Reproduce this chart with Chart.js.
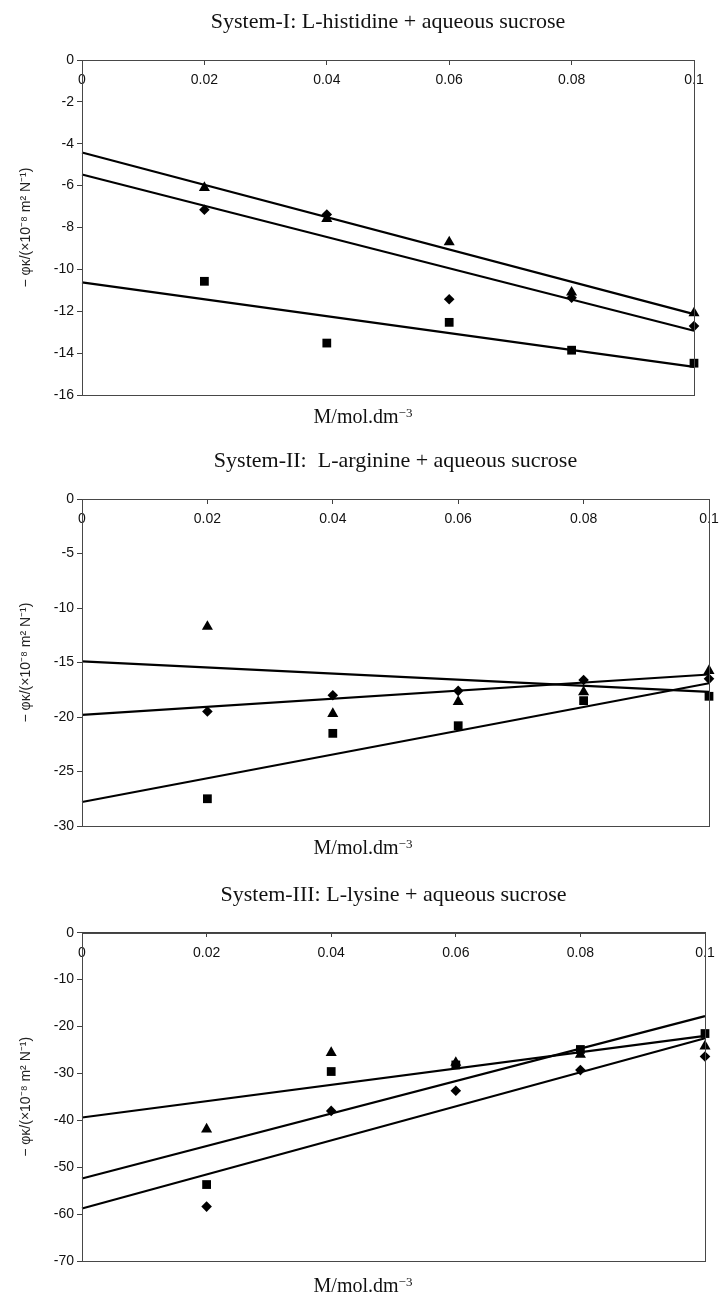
<!DOCTYPE html>
<html>
<head>
<meta charset="utf-8">
<script src="https://cdn.jsdelivr.net/npm/chart.js@4.4.0/dist/chart.umd.min.js"></script>
<style>
  html, body { margin: 0; padding: 0; background: #ffffff; }
  body { width: 719px; height: 1297px; position: relative; overflow: hidden; }
  canvas { position: absolute; left: 0; }
  .xlab { position: absolute; left: 213px; width: 300px; text-align: center;
          font-family: "Liberation Serif", "Times New Roman", serif; font-size: 20px;
          line-height: 24px; color: #111; white-space: nowrap; }
  .xlab span { position: relative; top: -0.45em; font-size: 13px; }
</style>
</head>
<body>
<canvas id="c1" width="719" height="430" style="top:0px"></canvas>
<canvas id="c2" width="719" height="430" style="top:430px"></canvas>
<canvas id="c3" width="719" height="437" style="top:860px"></canvas>
<div class="xlab" id="xl1" style="top:404px"></div>
<div class="xlab" id="xl2" style="top:835px"></div>
<div class="xlab" id="xl3" style="top:1273px"></div>
<script>
// ---------- data ----------
const concentrations = [0.02, 0.04, 0.06, 0.08, 0.1];
const fitX = [0, 0.1];
const xTicks = [0, 0.02, 0.04, 0.06, 0.08, 0.1];
const xAxisTitle = 'M/mol.dm';
const xAxisTitleExp = '\u22123';
const yAxisTitle = '\u2212 \u03C6\u03BA/(\u00D710\u207B\u2078 m\u00B2 N\u207B\u00B9)';

// System-I
const histidineTitle = 'System-I: L-histidine + aqueous sucrose';
const histidineSquare   = [-10.57, -13.52, -12.53, -13.86, -14.48];
const histidineDiamond  = [-7.15, -7.38, -11.43, -11.35, -12.71];
const histidineTriangle = [-6.1, -7.58, -8.7, -11.1, -12.09];
const histidineFitSquare   = [-10.62, -14.66];
const histidineFitDiamond  = [-5.47, -12.93];
const histidineFitTriangle = [-4.42, -12.14];
const histidineYTicks = [0, -2, -4, -6, -8, -10, -12, -14, -16];

// System-II
const arginineTitle = 'System-II:  L-arginine + aqueous sucrose';
const arginineSquare   = [-27.5, -21.5, -20.8, -18.5, -18.1];
const arginineDiamond  = [-19.5, -18.0, -17.6, -16.6, -16.5];
const arginineTriangle = [-11.7, -19.7, -18.6, -17.7, -15.75];
const arginineFitSquare   = [-27.8, -16.9];
const arginineFitDiamond  = [-19.8, -16.1];
const arginineFitTriangle = [-14.9, -17.7];
const arginineYTicks = [0, -5, -10, -15, -20, -25, -30];

// System-III
const lysineTitle = 'System-III: L-lysine + aqueous sucrose';
const lysineSquare   = [-53.7, -29.6, -28.2, -24.9, -21.5];
const lysineDiamond  = [-58.4, -38.0, -33.7, -29.3, -26.4];
const lysineTriangle = [-41.9, -25.6, -27.7, -26.0, -24.2];
const lysineFitSquare   = [-52.4, -17.8];
const lysineFitDiamond  = [-58.8, -22.5];
const lysineFitTriangle = [-39.4, -22.0];
const lysineYTicks = [0, -10, -20, -30, -40, -50, -60, -70];

// ---------- x-axis captions (real text) ----------
['xl1', 'xl2', 'xl3'].forEach(id => {
  const el = document.getElementById(id);
  el.textContent = xAxisTitle;
  const sup = document.createElement('span');
  sup.textContent = xAxisTitleExp;
  el.appendChild(sup);
});

// ---------- drawing ----------
const pts = (xs, ys) => xs.map((x, i) => ({x: x, y: ys[i]}));

const framePlugin = {
  id: 'frame',
  afterDraw(chart) {
    const a = chart.chartArea, ctx = chart.ctx;
    ctx.save();
    ctx.strokeStyle = '#484848';
    ctx.lineWidth = 1;
    ctx.strokeRect(Math.round(a.left) + 0.5, Math.round(a.top) + 0.5,
                   Math.round(a.right - a.left), Math.round(a.bottom - a.top));
    ctx.restore();
  }
};

function pointSet(values, style, radius) {
  return {
    type: 'scatter',
    data: pts(concentrations, values),
    pointStyle: style,
    pointRadius: radius,
    pointHoverRadius: radius,
    pointBackgroundColor: '#000',
    pointBorderColor: '#000',
    pointBorderWidth: 0,
    showLine: false,
    clip: false
  };
}
function fitSet(values) {
  return {
    type: 'line',
    data: pts(fitX, values),
    borderColor: '#000',
    borderWidth: 2.2,
    pointRadius: 0,
    fill: false,
    tension: 0,
    clip: false
  };
}

function makeChart(id, cfg) {
  const tickFont = {family: '"Liberation Sans", Arial, sans-serif', size: 14};
  new Chart(document.getElementById(id), {
    type: 'scatter',
    data: {
      datasets: [
        pointSet(cfg.square, 'rect', 6.2),
        pointSet(cfg.diamond, 'rectRot', 5.3),
        pointSet(cfg.triangle, 'triangle', 6.4),
        fitSet(cfg.fitSquare),
        fitSet(cfg.fitDiamond),
        fitSet(cfg.fitTriangle)
      ]
    },
    options: {
      responsive: false,
      animation: false,
      events: [],
      layout: {padding: {left: 0, right: cfg.padRight, top: 0, bottom: cfg.padBottom}},
      plugins: {
        legend: {display: false},
        tooltip: {enabled: false},
        title: {
          display: true,
          text: cfg.title,
          fullSize: false,
          color: '#111',
          font: {family: '"Liberation Serif", "Times New Roman", serif', size: 22, weight: 'normal', lineHeight: 1.2},
          padding: cfg.titlePad
        }
      },
      scales: {
        x: {
          type: 'linear',
          position: {y: 0},
          min: 0,
          max: 0.1,
          afterBuildTicks: s => { s.ticks = xTicks.map(v => ({value: v})); },
          afterFit: s => { s.paddingLeft = 0; s.paddingRight = 0; },
          grid: {drawOnChartArea: false, drawTicks: true, tickLength: 4, color: '#404040'},
          border: {display: true, color: '#404040', width: 1},
          ticks: {
            font: tickFont, color: '#111', padding: 8, maxRotation: 0, autoSkip: false,
            callback: v => String(Number(v.toFixed(2)))
          }
        },
        y: {
          type: 'linear',
          position: 'left',
          min: cfg.yTicks[cfg.yTicks.length - 1],
          max: cfg.yTicks[0],
          afterBuildTicks: s => { s.ticks = cfg.yTicks.map(v => ({value: v})); },
          afterFit: s => { s.width = 82; s.paddingTop = 0; s.paddingBottom = 0; },
          grid: {drawOnChartArea: false, drawTicks: true, tickLength: 5, color: '#404040'},
          border: {display: true, color: '#404040', width: 1},
          ticks: {font: tickFont, color: '#111', padding: 3, autoSkip: false},
          title: {
            display: true,
            text: yAxisTitle,
            color: '#222',
            font: {family: '"Liberation Sans", Arial, sans-serif', size: 14, lineHeight: 1.2},
            padding: {top: 17.5, bottom: 0}
          }
        }
      }
    },
    plugins: [framePlugin]
  });
}

makeChart('c1', {
  title: histidineTitle,
  square: histidineSquare, diamond: histidineDiamond, triangle: histidineTriangle,
  fitSquare: histidineFitSquare, fitDiamond: histidineFitDiamond, fitTriangle: histidineFitTriangle,
  yTicks: histidineYTicks,
  padRight: 25, padBottom: 35,
  titlePad: {top: 9.3, bottom: 24.3}
});
makeChart('c2', {
  title: arginineTitle,
  square: arginineSquare, diamond: arginineDiamond, triangle: arginineTriangle,
  fitSquare: arginineFitSquare, fitDiamond: arginineFitDiamond, fitTriangle: arginineFitTriangle,
  yTicks: arginineYTicks,
  padRight: 10, padBottom: 34,
  titlePad: {top: 18.5, bottom: 24.1}
});
makeChart('c3', {
  title: lysineTitle,
  square: lysineSquare, diamond: lysineDiamond, triangle: lysineTriangle,
  fitSquare: lysineFitSquare, fitDiamond: lysineFitDiamond, fitTriangle: lysineFitTriangle,
  yTicks: lysineYTicks,
  padRight: 14, padBottom: 36,
  titlePad: {top: 21.8, bottom: 24.5}
});
</script>
</body>
</html>
